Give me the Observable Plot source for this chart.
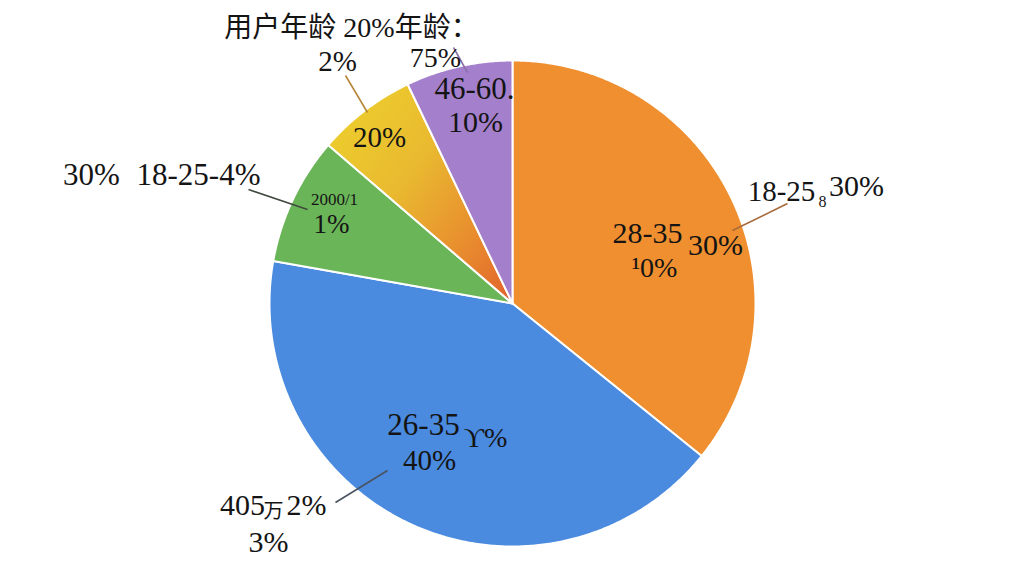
<!DOCTYPE html>
<html><head><meta charset="utf-8">
<script src="https://cdn.jsdelivr.net/npm/d3@7"></script>
<script src="https://cdn.jsdelivr.net/npm/@observablehq/plot@0.6"></script>
<style>body{margin:0;background:#fff;overflow:hidden}</style>
</head><body><div id="chart"></div>
<script>
// ---- data ----
const categories = ["28-35", "26-35", "18-25", "36-45", "46-60"];
const values = [35.8, 42.0, 8.5, 6.6, 7.1];
const colors = ["#EF8F2F", "#4A8ADF", "#6BB559", "url(#yellowGrad)", "#A47FCB"];

// texts as they appear on the picture
const labelTexts = [
  "用户年龄 20%年龄：", "2%", "75%", "46-60.", "10%", "20%",
  "30%", "18-25-4%", "2000/1", "1%", "18-25", "8", "30%",
  "28-35", "30%", "¹0%", "26-35", "ϒ%", "40%", "405", "万", "2%", "3%"
];

// ---- layout (pixels) ----
const W = 1024, H = 576, CX = 512, CY = 303, R = 243;
const toX = px => (px - CX) / R, toY = py => (CY - py) / R;
const labelPos = [
  [351, 28, 28], [337, 61, 29], [435, 58, 28], [474, 89, 31], [475, 122, 30], [379, 137, 29],
  [91, 175, 31], [198, 175, 31], [334, 199, 17], [331, 224, 27], [781, 191, 29], [822, 201, 16], [856, 186, 30],
  [647, 233, 30], [715, 245, 30], [654, 268, 28], [423, 425, 31], [485, 438, 28], [429, 460, 29],
  [242, 505, 30], [273, 511, 20], [306, 505, 30], [268, 542, 30]
];
const labels = labelTexts.map((t, i) => ({text: t, x: toX(labelPos[i][0]), y: toY(labelPos[i][1]), size: labelPos[i][2]}));

const leaders = [
  {x1: 345, y1: 75, x2: 367, y2: 112, c: "#B8863A"},
  {x1: 453, y1: 47, x2: 467, y2: 72, c: "#8A6FA8"},
  {x1: 248, y1: 189, x2: 307, y2: 209, c: "#3F4A3F"},
  {x1: 787, y1: 203, x2: 732, y2: 230, c: "#A86A3A"},
  {x1: 335, y1: 502, x2: 387, y2: 470, c: "#4A5360"}
].map(d => ({x1: toX(d.x1), y1: toY(d.y1), x2: toX(d.x2), y2: toY(d.y2), c: d.c}));

// ---- pie polygons ----
const arcs = d3.pie().sort(null).value(d => d)(values);
const pts = [];
arcs.forEach((a, i) => {
  const key = categories[i];
  pts.push({key, x: 0, y: 0});
  const n = Math.max(2, Math.ceil((a.endAngle - a.startAngle) / (Math.PI / 360)));
  for (let k = 0; k <= n; k++) {
    const t = a.startAngle + (a.endAngle - a.startAngle) * k / n;
    pts.push({key, x: Math.sin(t), y: Math.cos(t)});
  }
});

const font = "'Liberation Serif', 'Noto Sans CJK SC', serif";

const chart = Plot.plot({
  width: W, height: H, margin: 0,
  x: {domain: [toX(0), toX(W)], range: [0, W], axis: null},
  y: {domain: [toY(H), toY(0)], range: [H, 0], axis: null},
  color: {domain: categories, range: colors},
  style: {background: "#fff"},
  marks: [
    Plot.line(pts, {x: "x", y: "y", z: "key", fill: "key", stroke: "#fff", strokeWidth: 2, curve: "linear-closed", strokeLinejoin: "round"}),
    Plot.link(leaders, {x1: "x1", y1: "y1", x2: "x2", y2: "y2", stroke: d => d.c, strokeWidth: 1.6}),
    ...labels.map(l => Plot.text([l], {x: "x", y: "y", text: "text", fontSize: l.size, fontFamily: font, fill: "#141414", textAnchor: "middle", lineAnchor: "middle"}))
  ]
});

const svg = d3.select(chart);
const defs = svg.insert("defs", ":first-child");
const g = defs.append("linearGradient").attr("id", "yellowGrad")
  .attr("x1", "0").attr("y1", "0.1").attr("x2", "1").attr("y2", "1");
g.append("stop").attr("offset", "0").attr("stop-color", "#EDD02C");
g.append("stop").attr("offset", "0.4").attr("stop-color", "#E9B930");
g.append("stop").attr("offset", "0.75").attr("stop-color", "#E8892E");
g.append("stop").attr("offset", "1").attr("stop-color", "#E0602C");
document.getElementById("chart").appendChild(chart);
</script>
</body></html>
